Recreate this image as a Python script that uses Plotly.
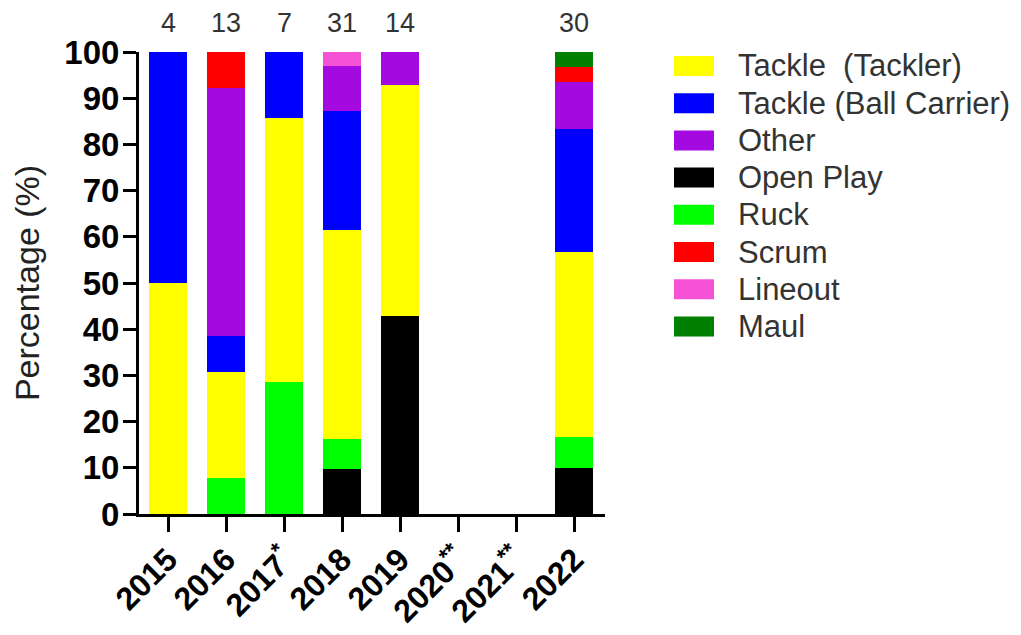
import plotly.graph_objects as go

years = ["2015", "2016", "2017*", "2018", "2019", "2020**", "2021**", "2022"]
counts = ["4", "13", "7", "31", "14", "", "", "30"]

open_play = [0, 0, 0, 9.7, 42.9, 0, 0, 10.0]
ruck = [0, 7.7, 28.6, 6.5, 0, 0, 0, 6.7]
tackler = [50.0, 23.1, 57.1, 45.2, 50.0, 0, 0, 40.0]
ball_carrier = [50.0, 7.7, 14.3, 25.8, 0, 0, 0, 26.7]
other = [0, 53.8, 0, 9.7, 7.1, 0, 0, 10.0]
scrum = [0, 7.7, 0, 0, 0, 0, 0, 3.3]
lineout = [0, 0, 0, 3.2, 0, 0, 0, 0]
maul = [0, 0, 0, 0, 0, 0, 0, 3.3]

# stacking order (bottom -> top)
series = [
    ("Open Play", open_play, "#000000"),
    ("Ruck", ruck, "#00FF00"),
    ("Tackle  (Tackler)", tackler, "#FFFF00"),
    ("Tackle (Ball Carrier)", ball_carrier, "#0000FF"),
    ("Other", other, "#A40AE0"),
    ("Scrum", scrum, "#FF0000"),
    ("Lineout", lineout, "#F552D6"),
    ("Maul", maul, "#007F00"),
]
legend_order = ["Tackle  (Tackler)", "Tackle (Ball Carrier)", "Other", "Open Play",
                "Ruck", "Scrum", "Lineout", "Maul"]

FONT = "Arial, 'Liberation Sans', sans-serif"
W, H = 1021, 635
OFF = 8  # page body margin
L, T = 139 - OFF, 52 - OFF
R = W - (605 - OFF)
B = H - (514 - OFF)
PW, PH = W - L - R, H - T - B


def px_x(p):
    """screen x pixel -> paper fraction"""
    return (p - OFF - L) / PW


def px_y(p):
    """screen y pixel -> paper fraction"""
    return (H - B - (p - OFF)) / PH


def sup_stars(label):
    base = label.rstrip("*")
    stars = label[len(base):]
    return base + (f"<sup>{stars}</sup>" if stars else "")


fig = go.Figure()
for name, vals, color in series:
    fig.add_trace(go.Bar(
        x=years, y=vals, name=name, marker_color=color,
        marker_line_width=0, width=0.66, showlegend=False,
    ))

for i, c in enumerate(counts):
    if c:
        fig.add_annotation(x=i, y=px_y(23), yref="paper", text=c, showarrow=False,
                           yanchor="middle",
                           font=dict(family=FONT, size=27, color="#333333"))

# custom legend with large swatches
colors = {n: c for n, _, c in series}
for k, name in enumerate(legend_order):
    cy = 66 + k * 37.2
    fig.add_shape(type="rect", xref="paper", yref="paper",
                  x0=px_x(674), x1=px_x(714), y0=px_y(cy - 10), y1=px_y(cy + 10),
                  fillcolor=colors[name], line_width=0)
    fig.add_annotation(xref="paper", yref="paper", x=px_x(736), y=px_y(cy),
                       xanchor="left", yanchor="middle", showarrow=False,
                       text=name.replace("  ", "&nbsp; "),
                       font=dict(family=FONT, size=31, color="#333333"))

fig.update_layout(
    barmode="stack",
    width=W, height=H,
    margin=dict(l=L, r=R, t=T, b=B, autoexpand=False),
    paper_bgcolor="white", plot_bgcolor="white",
    font=dict(family=FONT, color="#000000"),
    showlegend=False,
)

fig.update_xaxes(
    type="category", range=[-0.5, 7.53],
    tickmode="array", tickvals=years, ticktext=[sup_stars(y) for y in years],
    showline=True, linecolor="black", linewidth=3,
    ticks="outside", ticklen=15, tickwidth=3, tickcolor="black",
    tickangle=-45, tickfont=dict(family=FONT, size=32, color="black", weight="bold"),
    ticklabelstandoff=-4,
    showgrid=False, zeroline=False,
)
fig.update_yaxes(
    range=[0, 100], tickvals=list(range(0, 101, 10)),
    showline=True, linecolor="black", linewidth=3,
    ticks="outside", ticklen=13, tickwidth=3, tickcolor="black",
    tickfont=dict(family=FONT, size=33, color="black", weight="bold"),
    ticklabelstandoff=-3,
    title=dict(text="Percentage (%)", font=dict(family=FONT, size=34, color="#222222"), standoff=16),
    showgrid=False, zeroline=False,
)

fig.write_html("out.html")
